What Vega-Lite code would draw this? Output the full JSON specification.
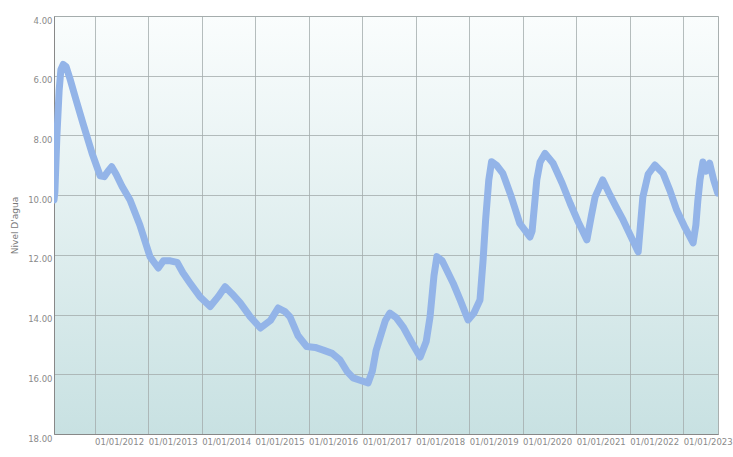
{
  "$schema": "https://vega.github.io/schema/vega-lite/v6.json",
  "width": 664,
  "height": 418,
  "autosize": "none",
  "padding": {"left": 54, "top": 16, "right": 15, "bottom": 23},
  "background": "white",
  "view": {
    "stroke": "#a9b0b0",
    "strokeWidth": 1,
    "fill": {
      "gradient": "linear",
      "x1": 0, "y1": 0, "x2": 0, "y2": 1,
      "stops": [
        {"offset": 0, "color": "#fafdfd"},
        {"offset": 1, "color": "#c8e1e2"}
      ]
    }
  },
  "config": {
    "font": "DejaVu Sans",
    "axis": {
      "gridColor": "#a4adad",
      "gridOpacity": 0.8,
      "gridWidth": 1,
      "labelColor": "#8a8a8a",
      "labelFontSize": 8.5,
      "titleColor": "#777",
      "titleFontWeight": "normal",
      "titleFontSize": 9,
      "tickSize": 0,
      "domainColor": "#888"
    }
  },
  "data": {
    "values": [
      {"date": "2011-03-30", "level": 10.16},
      {"date": "2011-04-05", "level": 9.9},
      {"date": "2011-04-19", "level": 8.0},
      {"date": "2011-05-04", "level": 6.5},
      {"date": "2011-05-16", "level": 5.8},
      {"date": "2011-06-01", "level": 5.62},
      {"date": "2011-06-21", "level": 5.7},
      {"date": "2011-07-17", "level": 6.1},
      {"date": "2011-08-27", "level": 6.8},
      {"date": "2011-10-14", "level": 7.6},
      {"date": "2011-12-15", "level": 8.6},
      {"date": "2012-02-08", "level": 9.35},
      {"date": "2012-03-07", "level": 9.38},
      {"date": "2012-04-02", "level": 9.2},
      {"date": "2012-04-27", "level": 9.05},
      {"date": "2012-05-27", "level": 9.3},
      {"date": "2012-07-06", "level": 9.7},
      {"date": "2012-08-30", "level": 10.16},
      {"date": "2012-11-05", "level": 11.0},
      {"date": "2013-01-14", "level": 12.07},
      {"date": "2013-03-11", "level": 12.44},
      {"date": "2013-04-15", "level": 12.2},
      {"date": "2013-06-01", "level": 12.2},
      {"date": "2013-07-17", "level": 12.25},
      {"date": "2013-08-26", "level": 12.6},
      {"date": "2013-10-13", "level": 12.94},
      {"date": "2013-12-20", "level": 13.4},
      {"date": "2014-02-28", "level": 13.73},
      {"date": "2014-04-24", "level": 13.4},
      {"date": "2014-06-10", "level": 13.07},
      {"date": "2014-07-27", "level": 13.3},
      {"date": "2014-09-20", "level": 13.6},
      {"date": "2014-11-28", "level": 14.07},
      {"date": "2015-02-06", "level": 14.45},
      {"date": "2015-04-15", "level": 14.2},
      {"date": "2015-06-07", "level": 13.78},
      {"date": "2015-07-24", "level": 13.9},
      {"date": "2015-08-27", "level": 14.08},
      {"date": "2015-10-20", "level": 14.7},
      {"date": "2015-12-19", "level": 15.07},
      {"date": "2016-02-15", "level": 15.1},
      {"date": "2016-04-10", "level": 15.19},
      {"date": "2016-06-10", "level": 15.3},
      {"date": "2016-08-03", "level": 15.52},
      {"date": "2016-09-19", "level": 15.9},
      {"date": "2016-10-31", "level": 16.12},
      {"date": "2016-12-17", "level": 16.2},
      {"date": "2017-02-10", "level": 16.29},
      {"date": "2017-03-11", "level": 15.9},
      {"date": "2017-04-06", "level": 15.2},
      {"date": "2017-05-04", "level": 14.75},
      {"date": "2017-06-08", "level": 14.2},
      {"date": "2017-07-09", "level": 13.95},
      {"date": "2017-08-21", "level": 14.1},
      {"date": "2017-10-07", "level": 14.41},
      {"date": "2017-12-07", "level": 14.95},
      {"date": "2018-02-01", "level": 15.42},
      {"date": "2018-03-14", "level": 14.9},
      {"date": "2018-04-09", "level": 14.08},
      {"date": "2018-05-06", "level": 12.7},
      {"date": "2018-05-26", "level": 12.06},
      {"date": "2018-07-01", "level": 12.2},
      {"date": "2018-09-14", "level": 12.95},
      {"date": "2018-10-31", "level": 13.5},
      {"date": "2018-12-25", "level": 14.18},
      {"date": "2019-02-03", "level": 13.95},
      {"date": "2019-03-16", "level": 13.51},
      {"date": "2019-04-06", "level": 12.2},
      {"date": "2019-04-24", "level": 10.8},
      {"date": "2019-05-15", "level": 9.5},
      {"date": "2019-06-03", "level": 8.88},
      {"date": "2019-07-08", "level": 9.0},
      {"date": "2019-08-19", "level": 9.27},
      {"date": "2019-10-12", "level": 10.0},
      {"date": "2019-12-13", "level": 10.95},
      {"date": "2020-02-20", "level": 11.4},
      {"date": "2020-03-06", "level": 11.2},
      {"date": "2020-03-23", "level": 10.3},
      {"date": "2020-04-07", "level": 9.49},
      {"date": "2020-04-29", "level": 8.9},
      {"date": "2020-06-02", "level": 8.6},
      {"date": "2020-07-27", "level": 8.93},
      {"date": "2020-09-27", "level": 9.6},
      {"date": "2020-11-21", "level": 10.28},
      {"date": "2021-01-15", "level": 10.9},
      {"date": "2021-03-15", "level": 11.5},
      {"date": "2021-04-14", "level": 10.7},
      {"date": "2021-05-10", "level": 10.06},
      {"date": "2021-07-01", "level": 9.49},
      {"date": "2021-08-20", "level": 10.0},
      {"date": "2021-10-01", "level": 10.4},
      {"date": "2021-11-17", "level": 10.83},
      {"date": "2022-01-11", "level": 11.4},
      {"date": "2022-02-28", "level": 11.9},
      {"date": "2022-04-01", "level": 10.06},
      {"date": "2022-05-07", "level": 9.3},
      {"date": "2022-06-22", "level": 8.99},
      {"date": "2022-08-17", "level": 9.27},
      {"date": "2022-10-03", "level": 9.85},
      {"date": "2022-11-18", "level": 10.5},
      {"date": "2023-01-15", "level": 11.1},
      {"date": "2023-03-10", "level": 11.6},
      {"date": "2023-03-29", "level": 11.0},
      {"date": "2023-04-11", "level": 10.2},
      {"date": "2023-04-26", "level": 9.49},
      {"date": "2023-05-16", "level": 8.89},
      {"date": "2023-06-05", "level": 9.2},
      {"date": "2023-07-01", "level": 8.93},
      {"date": "2023-07-29", "level": 9.5},
      {"date": "2023-08-25", "level": 9.93}
    ]
  },
  "mark": {"type": "line", "color": "#93b4e8", "strokeWidth": 7, "strokeJoin": "round", "strokeCap": "round", "clip": true},
  "encoding": {
    "x": {
      "field": "date",
      "type": "temporal",
      "scale": {"domain": ["2011-03-30", "2023-08-27"], "nice": false},
      "axis": {
        "title": null,
        "format": "%d/%m/%Y",
        "tickCount": {"interval": "year", "step": 1},
        "labelAlign": "left",
        "labelPadding": 3,
        "labelOverlap": false,
        "labelFlush": false,
        "domain": true
      }
    },
    "y": {
      "field": "level",
      "type": "quantitative",
      "scale": {"domain": [4, 18], "reverse": true, "nice": false, "zero": false},
      "axis": {
        "title": "Nivel D'agua",
        "titlePadding": 8,
        "values": [4, 6, 8, 10, 12, 14, 16, 18],
        "format": ".2f",
        "labelPadding": 2,
        "labelBaseline": "top",
        "labelFlush": false,
        "domain": true
      }
    }
  }
}
